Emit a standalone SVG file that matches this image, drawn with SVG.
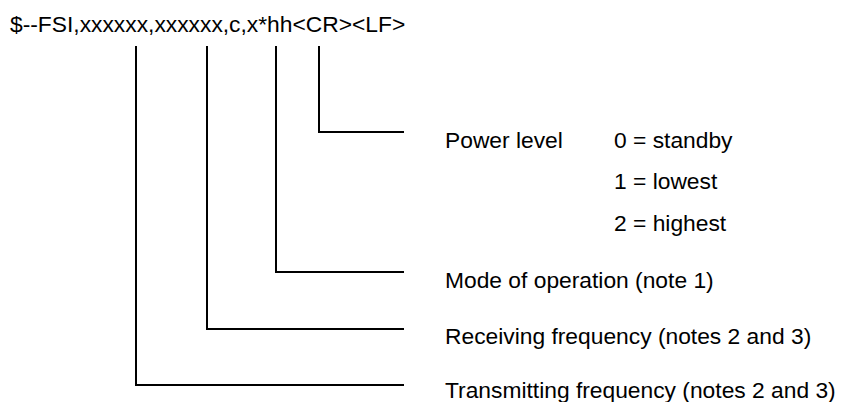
<svg xmlns="http://www.w3.org/2000/svg" width="850" height="402" viewBox="0 0 850 402">
<style>
text { font-family: "Liberation Sans", Arial, sans-serif; font-size: 22.8px; fill: #000; }
.c { fill: none; stroke: #000; stroke-width: 2; }
</style>
<rect width="850" height="402" fill="#fff"/>
<g id="sentence"><text x="10" y="32">$--FSI,xxxxxx,xxxxxx,c,x*hh&lt;CR&gt;&lt;LF&gt;</text></g>
<g id="connectors">
<polyline class="c" points="319,46 319,132 404,132"/>
<polyline class="c" points="276,46 276,272 404,272"/>
<polyline class="c" points="207,46 207,329 404,329"/>
<polyline class="c" points="136,46 136,385 404,385"/>
</g>
<g id="power"><text x="445" y="147.5">Power level</text>
<text x="614" y="147.5">0 = standby</text>
<text x="614" y="189">1 = lowest</text>
<text x="614" y="230.5">2 = highest</text></g>
<g id="mode"><text x="445" y="287.5">Mode of operation (note 1)</text></g>
<g id="rx"><text x="445" y="343.5">Receiving frequency (notes 2 and 3)</text></g>
<g id="tx"><text x="445" y="398">Transmitting frequency (notes 2 and 3)</text></g>
</svg>
